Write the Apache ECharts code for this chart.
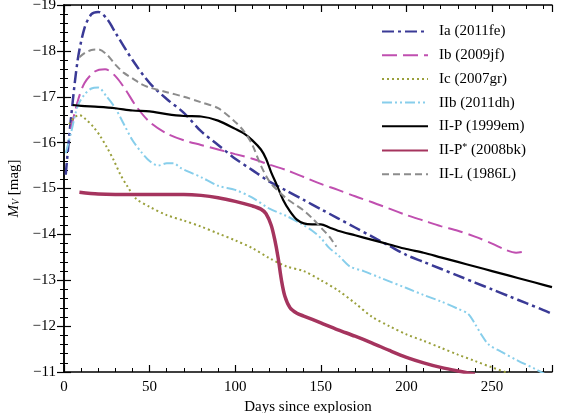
<!DOCTYPE html>
<html>
<head>
<meta charset="utf-8">
<script src="https://cdn.jsdelivr.net/npm/echarts@6/dist/echarts.min.js"></script>
<style>
  html, body { margin: 0; padding: 0; background: #fff; }
  #chart { width: 561px; height: 413px; }
</style>
</head>
<body>
<div id="chart"></div>
<script>
// light curves, [days, M_V]
const ia = [[1,-15.3],[4,-16.5],[8,-17.8],[12,-18.5],[16,-18.8],[20,-18.85],[25,-18.7],[30,-18.4],[40,-17.8],[50,-17.3],[60,-16.95],[70,-16.65],[80,-16.25],[90,-15.95],[100,-15.65],[110,-15.4],[120,-15.15],[130,-14.95],[140,-14.75],[150,-14.55],[160,-14.35],[170,-14.15],[180,-13.95],[190,-13.75],[200,-13.55],[210,-13.4],[220,-13.25],[230,-13.1],[240,-12.95],[250,-12.8],[260,-12.65],[270,-12.5],[280,-12.35],[285,-12.27]];
const ib = [[4,-16.3],[8,-16.9],[12,-17.3],[18,-17.55],[24,-17.6],[30,-17.45],[36,-17.15],[42,-16.8],[50,-16.45],[60,-16.2],[70,-16.05],[80,-15.95],[90,-15.85],[100,-15.75],[110,-15.65],[120,-15.52],[130,-15.4],[140,-15.25],[150,-15.1],[160,-14.97],[170,-14.83],[180,-14.7],[190,-14.56],[200,-14.42],[210,-14.3],[220,-14.18],[230,-14.08],[240,-13.95],[250,-13.8],[258,-13.66],[264,-13.6],[268,-13.62]];
const ic = [[3,-16.4],[6,-16.55],[9,-16.6],[13,-16.5],[17,-16.35],[21,-16.15],[25,-15.9],[29,-15.62],[33,-15.3],[37,-15.05],[42,-14.78],[50,-14.6],[60,-14.42],[70,-14.3],[80,-14.17],[90,-14.02],[100,-13.87],[110,-13.7],[120,-13.48],[130,-13.3],[140,-13.2],[150,-13.0],[160,-12.78],[170,-12.5],[180,-12.2],[190,-12.0],[200,-11.82],[210,-11.68],[220,-11.53],[230,-11.38],[240,-11.24],[250,-11.1],[260,-10.97]];
const iib = [[1,-15.77],[4,-16.2],[8,-16.8],[12,-17.05],[16,-17.18],[20,-17.2],[25,-17.0],[30,-16.75],[35,-16.4],[40,-16.05],[45,-15.8],[50,-15.6],[55,-15.5],[60,-15.55],[64,-15.55],[68,-15.45],[75,-15.33],[80,-15.25],[90,-15.06],[100,-14.97],[110,-14.8],[120,-14.56],[130,-14.4],[140,-14.2],[145,-14.08],[150,-13.92],[155,-13.7],[160,-13.55],[167,-13.3],[175,-13.2],[185,-13.05],[200,-12.83],[210,-12.68],[220,-12.54],[230,-12.38],[236,-12.27],[240,-12.05],[244,-11.8],[248,-11.6],[255,-11.45],[265,-11.25],[275,-11.07],[281,-10.95]];
const iip = [[5,-16.82],[10,-16.8],[20,-16.78],[30,-16.75],[40,-16.7],[50,-16.68],[60,-16.62],[70,-16.58],[80,-16.57],[90,-16.48],[100,-16.3],[105,-16.2],[110,-16.05],[115,-15.85],[118,-15.65],[121,-15.35],[124,-15.1],[128,-14.75],[132,-14.5],[136,-14.32],[140,-14.24],[145,-14.22],[150,-14.22],[155,-14.15],[160,-14.08],[170,-13.98],[180,-13.88],[190,-13.78],[200,-13.68],[210,-13.6],[220,-13.5],[230,-13.4],[240,-13.3],[250,-13.2],[260,-13.1],[270,-13.0],[280,-12.9],[285,-12.85]];
const iipStar = [[9,-14.92],[20,-14.88],[30,-14.87],[40,-14.87],[50,-14.87],[60,-14.87],[70,-14.87],[80,-14.85],[90,-14.8],[100,-14.72],[110,-14.62],[115,-14.55],[118,-14.45],[121,-14.2],[123,-13.9],[125,-13.5],[127,-13.0],[129,-12.65],[132,-12.4],[136,-12.28],[140,-12.22],[150,-12.07],[160,-11.92],[170,-11.78],[180,-11.63],[190,-11.47],[200,-11.32],[210,-11.2],[220,-11.1],[230,-11.02],[240,-10.95]];
const iil = [[9,-17.86],[12,-17.95],[16,-18.02],[20,-18.03],[25,-17.92],[30,-17.7],[35,-17.52],[40,-17.4],[45,-17.28],[50,-17.2],[60,-17.1],[70,-17.0],[80,-16.88],[90,-16.75],[100,-16.45],[105,-16.25],[110,-15.95],[115,-15.5],[120,-15.15],[125,-14.95],[130,-14.78],[135,-14.65],[140,-14.52],[145,-14.35],[150,-14.15],[155,-13.95],[159,-13.73]];

const names = ["Ia (2011fe)", "Ib (2009jf)", "Ic (2007gr)", "IIb (2011dh)", "II-P (1999em)", "II-P* (2008bk)", "II-L (1986L)"];
const xTicks = [0, 285, 50];
const yTicks = [-19, -11, 1];

const font = "Liberation Serif";
const minus = (v) => (v < 0 ? "\u2212" + Math.abs(v) : String(v));

const chart = echarts.init(document.getElementById("chart"));

function line(name, data, color, width, type) {
  return {
    name: name,
    type: "line",
    data: data,
    smooth: 0.3,
    showSymbol: false,
    symbol: "none",
    lineStyle: { color: color, width: width, type: type },
    itemStyle: { color: color },
    z: 3,
  };
}

function axisCommon(showLabel, showMax) {
  return {
    axisLine: { show: true, lineStyle: { color: "#000", width: 1.5 } },
    axisTick: { show: true, inside: true, length: 7, lineStyle: { color: "#000", width: 1.2 } },
    minorTick: { show: true, splitNumber: 5, length: 4, lineStyle: { color: "#000", width: 1 } },
    splitLine: { show: false },
    axisLabel: {
      show: showLabel,
      color: "#000",
      fontFamily: font,
      fontSize: 15,
      showMaxLabel: showMax,
      formatter: minus,
    },
  };
}

chart.setOption({
  animation: false,
  grid: { left: 64, right: 9, top: 5, bottom: 41, outerBoundsMode: "none", containLabel: false },
  legend: {
    orient: "vertical",
    left: 376,
    top: 19,
    itemWidth: 46,
    itemHeight: 14,
    itemGap: 8.7,
    data: names,
    itemStyle: { opacity: 0 },
    textStyle: {
      fontFamily: font,
      fontSize: 15,
      color: "#000",
      padding: [0, 0, 0, 6],
      rich: {
        sup: { fontFamily: font, fontSize: 10, verticalAlign: "top", padding: [0, 0, 6, 0] },
      },
    },
    formatter: (n) => (n === "II-P* (2008bk)" ? "II-P{sup|*} (2008bk)" : n),
  },
  xAxis: [
    Object.assign(axisCommon(true, false), {
      type: "value",
      position: "bottom",
      min: xTicks[0],
      max: xTicks[1],
      interval: xTicks[2],
      name: "Days since explosion",
      nameLocation: "middle",
      nameGap: 28,
      nameTextStyle: { fontFamily: font, fontSize: 15, color: "#000" },
    }),
    Object.assign(axisCommon(false, false), {
      type: "value",
      position: "top",
      min: xTicks[0],
      max: xTicks[1],
      interval: xTicks[2],
    }),
  ],
  yAxis: [
    Object.assign(axisCommon(true, true), {
      type: "value",
      position: "left",
      inverse: true,
      min: yTicks[0],
      max: yTicks[1],
      interval: yTicks[2],
      name: "{i|M}{s|V} [mag]",
      nameLocation: "middle",
      nameGap: 40,
      nameRotate: 90,
      nameTextStyle: {
        fontFamily: font,
        fontSize: 15,
        color: "#000",
        rich: {
          i: { fontFamily: font, fontSize: 15, fontStyle: "italic" },
          s: { fontFamily: font, fontSize: 10, fontStyle: "italic", verticalAlign: "bottom", padding: [6, 0, 0, 0] },
        },
      },
    }),
    Object.assign(axisCommon(false, false), {
      type: "value",
      position: "right",
      inverse: true,
      min: yTicks[0],
      max: yTicks[1],
      interval: yTicks[2],
    }),
  ],
  series: [
    line(names[0], ia, "#3a3a96", 2.5, [12, 4, 3, 4]),
    line(names[1], ib, "#c04fb0", 2, [15, 6]),
    line(names[2], ic, "#9aa03c", 2, [2, 3]),
    line(names[3], iib, "#87ceeb", 2, [10, 3, 2, 3, 2, 3]),
    line(names[4], iip, "#000000", 2.2, "solid"),
    line(names[5], iipStar, "#a5345e", 3.5, "solid"),
    line(names[6], iil, "#8c8c8c", 2, [7, 4]),
  ],
});
</script>
</body>
</html>
